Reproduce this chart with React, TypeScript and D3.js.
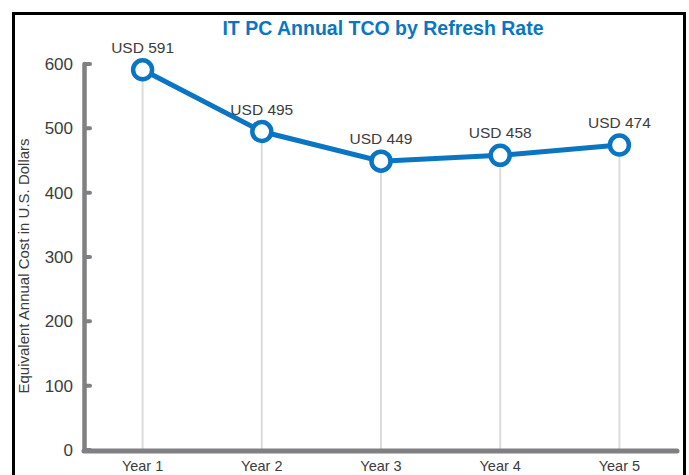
import { useEffect, useRef } from "react";
import * as d3 from "d3";

const years = ["Year 1", "Year 2", "Year 3", "Year 4", "Year 5"];
const costs = [591, 495, 449, 458, 474];
const yTicks = [0, 100, 200, 300, 400, 500, 600];

const BLUE = "#0a76c3";
const GREY = "#808083";
const TEXT = "#3c3c3c";
const FONT = "'Liberation Sans', Arial, sans-serif";

export default function App() {
  const svgRef = useRef<SVGSVGElement>(null);

  useEffect(() => {
    if (!svgRef.current) return;
    const svg = d3.select(svgRef.current);
    svg.selectAll("*").remove();

    const width = 689;
    const height = 475;

    svg.append("rect")
      .attr("x", 0).attr("y", 0)
      .attr("width", width).attr("height", height)
      .attr("fill", "#fff");

    // frame
    svg.append("rect")
      .attr("x", 13.5).attr("y", 13.5)
      .attr("width", 671).attr("height", 500)
      .attr("fill", "none")
      .attr("stroke", "#000")
      .attr("stroke-width", 3);

    const xScale = d3.scalePoint<string>()
      .domain(years)
      .range([83, 679])
      .padding(0.5);
    const yScale = d3.scaleLinear()
      .domain([0, 600])
      .range([450, 64]);

    const data = years.map((y, i) => ({ year: y, value: costs[i] }));

    // vertical guide lines
    svg.selectAll("line.grid")
      .data(data)
      .enter()
      .append("line")
      .attr("x1", d => xScale(d.year)!)
      .attr("x2", d => xScale(d.year)!)
      .attr("y1", d => yScale(d.value))
      .attr("y2", yScale(0))
      .attr("stroke", "#dcdcdc")
      .attr("stroke-width", 2);

    // y axis
    svg.append("line")
      .attr("x1", 84.5).attr("x2", 84.5)
      .attr("y1", yScale(600)).attr("y2", yScale(0))
      .attr("stroke", GREY)
      .attr("stroke-width", 4.5)
      .attr("stroke-linecap", "round");
    svg.selectAll("line.ytick")
      .data(yTicks)
      .enter()
      .append("line")
      .attr("x1", 85).attr("x2", 90)
      .attr("y1", d => yScale(d)).attr("y2", d => yScale(d))
      .attr("stroke", GREY)
      .attr("stroke-width", 4)
      .attr("stroke-linecap", "round");
    svg.selectAll("text.ytick")
      .data(yTicks)
      .enter()
      .append("text")
      .attr("x", 73)
      .attr("y", d => yScale(d) + 6)
      .attr("text-anchor", "end")
      .attr("font-family", FONT)
      .attr("font-size", 17)
      .attr("fill", TEXT)
      .text(d => d);

    // x axis
    svg.append("line")
      .attr("x1", 84).attr("x2", 677)
      .attr("y1", yScale(0) + 1).attr("y2", yScale(0) + 1)
      .attr("stroke", GREY)
      .attr("stroke-width", 5)
      .attr("stroke-linecap", "round");
    svg.selectAll("text.xtick")
      .data(years)
      .enter()
      .append("text")
      .attr("x", d => xScale(d)!)
      .attr("y", 471)
      .attr("text-anchor", "middle")
      .attr("font-family", FONT)
      .attr("font-size", 14.5)
      .attr("fill", TEXT)
      .text(d => d);

    // y label
    svg.append("text")
      .attr("transform", `translate(29,266) rotate(-90)`)
      .attr("text-anchor", "middle")
      .attr("font-family", FONT)
      .attr("font-size", 15)
      .attr("fill", TEXT)
      .text("Equivalent Annual Cost in U.S. Dollars");

    // title
    svg.append("text")
      .attr("x", 383)
      .attr("y", 35)
      .attr("text-anchor", "middle")
      .attr("font-family", FONT)
      .attr("font-weight", "bold")
      .attr("font-size", 19.5)
      .attr("fill", BLUE)
      .text("IT PC Annual TCO by Refresh Rate");

    const line = d3.line<{ year: string; value: number }>()
      .x(d => xScale(d.year)!)
      .y(d => yScale(d.value));

    svg.append("path")
      .datum(data)
      .attr("fill", "none")
      .attr("stroke", BLUE)
      .attr("stroke-width", 5)
      .attr("d", line);

    svg.selectAll("circle.pt")
      .data(data)
      .enter()
      .append("circle")
      .attr("cx", d => xScale(d.year)!)
      .attr("cy", d => yScale(d.value))
      .attr("r", 9.5)
      .attr("fill", "#fff")
      .attr("stroke", BLUE)
      .attr("stroke-width", 4.5);

    svg.selectAll("text.val")
      .data(data)
      .enter()
      .append("text")
      .attr("x", d => xScale(d.year)!)
      .attr("y", d => yScale(d.value) - 17)
      .attr("text-anchor", "middle")
      .attr("font-family", FONT)
      .attr("font-size", 15.5)
      .attr("fill", TEXT)
      .text(d => `USD ${d.value}`);
  }, []);

  return (
    <svg
      ref={svgRef}
      width={689}
      height={475}
      style={{ position: "absolute", left: 0, top: 0, display: "block" }}
    />
  );
}
